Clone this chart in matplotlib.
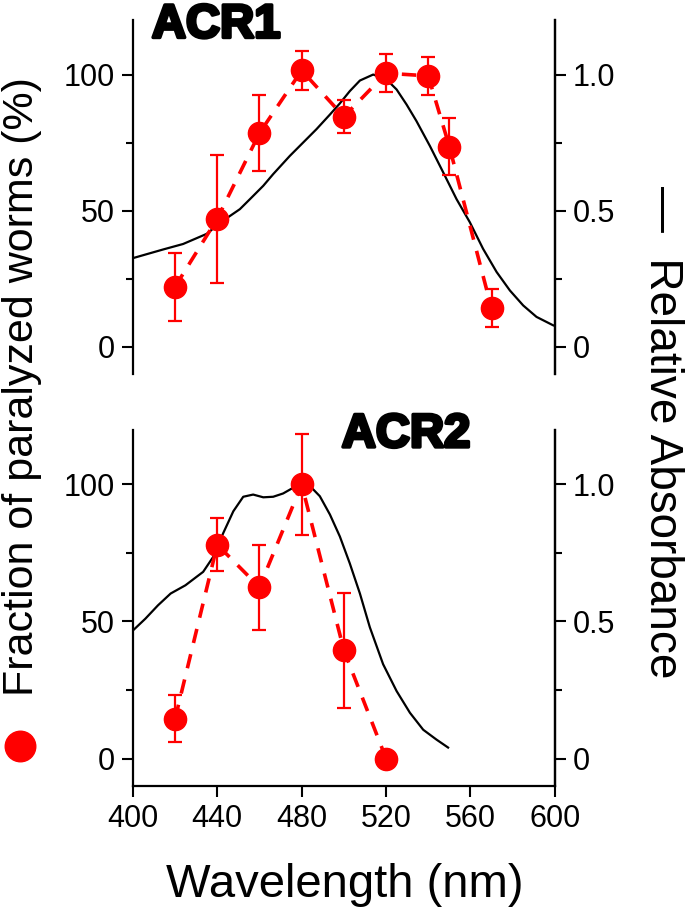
import numpy as np
import matplotlib
matplotlib.use("Agg")
import matplotlib.pyplot as plt
from matplotlib.lines import Line2D
import matplotlib.patheffects as pe

plt.rcParams['font.family'] = ['Liberation Sans', 'DejaVu Sans']

# ACR1 - paralysis data (%)
acr1_wl = [420, 440, 460, 480, 500, 520, 540, 550, 570]
acr1_frac = [22, 47, 78.5, 101.5, 84.5, 100.5, 99.5, 73.5, 14]
acr1_err = [12.5, 23.5, 14, 7, 6, 7, 7, 10.5, 7]

# ACR1 - absorbance spectrum
acr1_spec_wl = [400, 414.4, 423.8, 434.9, 442.8, 450.7, 455.5, 461.8, 466.5, 474.4,
                480.7, 487, 493.4, 498.1, 502.8, 507.6, 513.9, 520.2, 525, 529.7,
                534.4, 540.8, 547.1, 553.4, 559.7, 566, 572.4, 578.7, 585, 591.3,
                599.2, 600]
acr1_spec = [0.325, 0.357, 0.377, 0.414, 0.463, 0.505, 0.542, 0.591, 0.634, 0.701,
             0.75, 0.799, 0.853, 0.894, 0.939, 0.978, 1.0, 0.982, 0.945, 0.89,
             0.829, 0.737, 0.64, 0.542, 0.457, 0.359, 0.274, 0.206, 0.151, 0.109,
             0.078, 0.076]

# ACR2 - paralysis data (%)
acr2_wl = [420, 440, 460, 480, 500, 520]
acr2_frac = [14.5, 78, 62.5, 100, 39.5, 0]
acr2_err = [8.5, 9.7, 15.5, 18.5, 21, 0]

# ACR2 - absorbance spectrum
acr2_spec_wl = [400, 405.9, 411.9, 417.9, 424.9, 430.2, 433.3, 438.1, 442.8, 447.6,
                452.3, 457, 461.8, 466.5, 471.2, 476, 480.7, 484.7, 488.6, 493.4,
                498.1, 502.8, 507.6, 512.3, 518.6, 525, 531.3, 537.6, 543.9, 549.4]
acr2_spec = [0.467, 0.51, 0.559, 0.602, 0.632, 0.663, 0.681, 0.736, 0.822, 0.902,
             0.955, 0.963, 0.953, 0.955, 0.967, 0.988, 1.0, 0.988, 0.957, 0.89,
             0.81, 0.712, 0.602, 0.479, 0.344, 0.246, 0.167, 0.105, 0.069, 0.04]

xticks = [400, 440, 480, 520, 560, 600]

red = '#ff0000'
fig = plt.figure(figsize=(6.85, 9.16), dpi=100)
ax_top = fig.add_axes([0.194, 0.592, 0.616, 0.386])
ax_bot = fig.add_axes([0.194, 0.142, 0.616, 0.389])


def draw_panel(ax, wl, frac, err, spec_wl, spec, name, name_xy, show_x):
    ax.plot(spec_wl, np.array(spec) * 100, color='black', lw=1.6, zorder=2,
            solid_joinstyle='round')
    ax.errorbar(wl, frac, yerr=err, fmt='o', color=red, ms=16, elinewidth=1.6,
                capsize=5, capthick=1.6, zorder=3)
    ax.plot(wl, frac, color=red, lw=2.6, ls=(0, (4, 3.2)), zorder=3)
    ax.set_xlim(400, 600)
    ax.set_ylim(-10, 120)
    ax.set_yticks([0, 50, 100])
    ax.set_yticks([25, 75], minor=True)
    ax.spines['top'].set_visible(False)
    ax.spines['left'].set_linewidth(1.6)
    ax.spines['right'].set_linewidth(1.6)
    ax.tick_params(axis='y', which='major', labelsize=22, length=8, width=1.5, pad=5)
    ax.tick_params(axis='y', which='minor', length=5, width=1.5)

    ax2 = ax.twinx()
    ax2.set_ylim(-0.1, 1.2)
    ax2.set_yticks([0, 0.5, 1.0])
    ax2.set_yticklabels(['0', '0.5', '1.0'])
    ax2.set_yticks([0.25, 0.75], minor=True)
    for s in ['top', 'bottom', 'left']:
        ax2.spines[s].set_visible(False)
    ax2.spines['right'].set_linewidth(1.6)
    ax2.tick_params(axis='y', which='major', labelsize=22, length=8, width=1.5, pad=5)
    ax2.tick_params(axis='y', which='minor', length=5, width=1.5)

    if show_x:
        ax.spines['bottom'].set_linewidth(1.6)
        ax.set_xticks(xticks)
        ax.tick_params(axis='x', labelsize=22, length=8, width=1.5, pad=5)
    else:
        ax.spines['bottom'].set_visible(False)
        ax.set_xticks([])

    ax.text(name_xy[0], name_xy[1], name, transform=ax.transAxes, fontsize=34,
            fontweight='bold', va='center', ha='left', zorder=5,
            path_effects=[pe.withStroke(linewidth=2.5, foreground='black')])


draw_panel(ax_top, acr1_wl, acr1_frac, acr1_err, acr1_spec_wl, acr1_spec,
           'ACR1', (0.045, 0.985), False)
draw_panel(ax_bot, acr2_wl, acr2_frac, acr2_err, acr2_spec_wl, acr2_spec,
           'ACR2', (0.495, 0.985), True)

fig.text(0.032, 0.5775, 'Fraction of paralyzed worms (%)', rotation=90,
         fontsize=31, ha='center', va='center')
fig.add_artist(Line2D([20 / 685], [1 - 746 / 916], marker='o', ms=22,
                      color=red, transform=fig.transFigure))
fig.text(0.966, 0.528, '—  Relative Absorbance', rotation=-90,
         fontsize=33, ha='center', va='center')
fig.text(0.504, 0.034, 'Wavelength (nm)', fontsize=34, ha='center', va='center')

fig.savefig('out.png', dpi=100)
